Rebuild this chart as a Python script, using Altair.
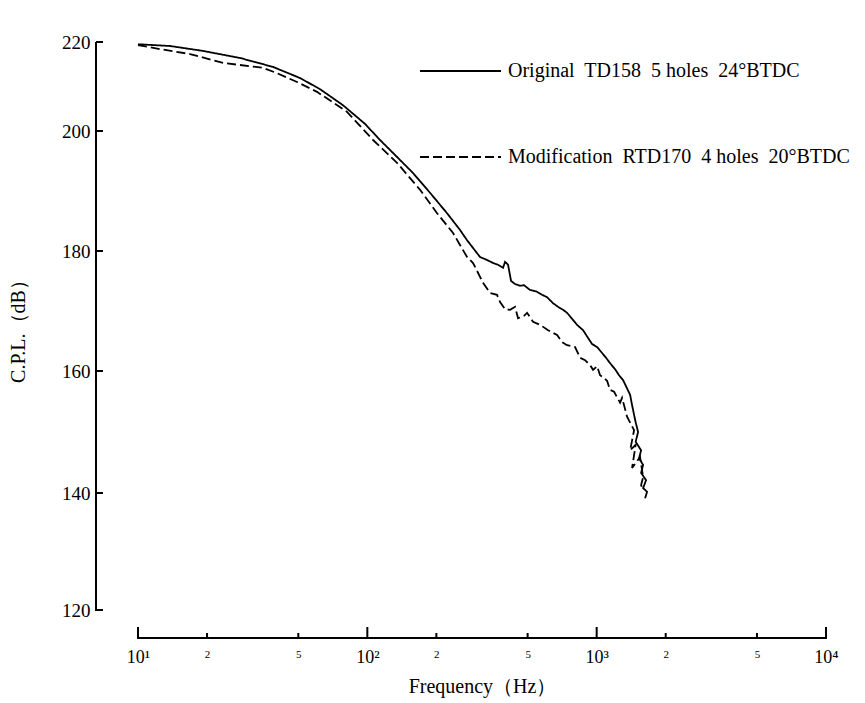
import altair as alt
import pandas as pd

S_LABEL = "Original\u00a0 TD158\u00a0 5 holes\u00a0 24°BTDC"
M_LABEL = "Modification\u00a0 RTD170\u00a0 4 holes\u00a0 20°BTDC"

orig_freq = [10, 13.8, 19.2, 27.9, 38.8, 50.9, 62.2, 78.3, 97.7, 113.6, 132.1, 158.2,
             187.7, 222.6, 253.7, 272.1, 310.0, 332.7, 353.4, 371.5, 390.6, 398.6, 410.8,
             423.4, 440.7, 463.4, 482.5, 512.5, 549.7, 578.0, 607.7, 645.3, 678.5, 713.7,
             743.0, 781.0, 821.2, 872.3, 917.6, 954.8, 1004, 1056, 1099, 1144, 1203, 1252,
             1304, 1343, 1399, 1427, 1456, 1479, 1516, 1479, 1562, 1531, 1594, 1562, 1642,
             1594, 1659, 1626]
orig_cpl = [219.5, 219.1, 218.0, 216.4, 214.4, 211.9, 209.4, 205.8, 201.6, 198.5, 196.0, 193.0,
            189.7, 186.3, 183.5, 181.8, 179.0, 178.5, 178.0, 177.7, 177.2, 178.2, 177.7,
            175.0, 174.5, 174.2, 174.3, 173.5, 173.2, 172.7, 172.3, 171.3, 170.7, 170.2,
            169.7, 168.7, 167.7, 166.8, 165.5, 164.5, 164.0, 163.0, 162.2, 161.3, 160.3, 159.3,
            158.5, 157.5, 156.1, 154.4, 152.8, 151.6, 150.0, 148.4, 147.0, 145.7, 144.6, 143.3,
            142.1, 140.8, 140.2, 139.1]

mod_freq = [10, 12.47, 16.86, 23.48, 35.09, 40.39, 49.38, 60.34, 81.54, 105.9, 134.7, 169.8,
            201.4, 236.5, 272.1, 289.1, 319.6, 342.9, 367.8, 379.0, 398.6, 419.2, 440.7,
            454.2, 482.5, 497.3, 528.0, 566.5, 614.0, 672.1, 706.6, 743.0, 805.2, 846.4,
            890.0, 935.8, 964.5, 1004, 1034.7, 1066.5, 1110, 1144, 1191, 1265, 1291, 1357,
            1456, 1399, 1479, 1427, 1546, 1594, 1562, 1594]
mod_cpl = [219.3, 218.4, 217.3, 215.3, 214.2, 213.0, 211.0, 208.8, 204.3, 198.5, 194.7, 190.2,
           186.3, 183.0, 179.0, 178.0, 174.7, 173.0, 172.7, 171.5, 170.3, 170.2, 170.7,
           168.8, 169.2, 169.7, 168.2, 167.7, 166.8, 166.0, 164.8, 164.3, 164.0, 162.2,
           161.8, 161.0, 160.2, 160.8, 159.3, 159.0, 158.4, 156.9, 156.6, 154.8, 155.6, 152.5,
           150.3, 147.0, 147.9, 144.1, 145.9, 142.6, 141.3, 140.5]

y_ticks = [120, 140, 160, 180, 200, 220]
x_major = [10, 100, 1000, 10000]
x_minor = [20, 50, 200, 500, 2000, 5000]

FONT = "Liberation Serif"
W, H = 688, 568
YOFF, XOFF = 42, 28

rows = []
for i, (f, v) in enumerate(zip(orig_freq, orig_cpl)):
    rows.append({"series": S_LABEL, "f": f, "v": v, "i": i})
for i, (f, v) in enumerate(zip(mod_freq, mod_cpl)):
    rows.append({"series": M_LABEL, "f": f, "v": v, "i": i})
df = pd.DataFrame(rows)

xscale = alt.Scale(type="log", domain=[10, 10000], nice=False)
yscale = alt.Scale(domain=y_ticks, range=[568, 451, 329, 209, 89, 0], zero=False, nice=False)

label_expr = ("datum.value == 10 ? '10\u00b9' : datum.value == 100 ? '10\u00b2' : "
              "datum.value == 1000 ? '10\u00b3' : datum.value == 10000 ? '10\u2074' : "
              "indexof([20,200,2000], datum.value) >= 0 ? '2' : '5'")

xaxis = alt.Axis(values=sorted(x_major + x_minor), ticks=False, grid=False, offset=XOFF,
                 domain=False, labelExpr=label_expr,
                 labelFont=FONT, labelColor="black", labelBaseline="top", labelPadding=10,
                 labelFontSize={"condition": {"test": "indexof([10,100,1000,10000], datum.value) >= 0",
                                              "value": 18}, "value": 11},
                 labelOverlap=False, labelFlush=False,
                 title="Frequency\uff08Hz\uff09", titleFont=FONT, titleFontSize=20,
                 titleFontWeight="normal", titleColor="black", titlePadding=10)

yaxis = alt.Axis(values=y_ticks, ticks=False, grid=False, offset=YOFF, domain=False,
                 labelFont=FONT, labelFontSize=19, labelColor="black", labelPadding=6,
                 labelOverlap=False, labelFlush=False,
                 title="C.P.L.\uff08dB\uff09", titleFont=FONT, titleFontSize=20,
                 titleFontWeight="normal", titleColor="black", titlePadding=33)

X = alt.X("f:Q", scale=xscale, axis=xaxis)
Y = alt.Y("v:Q", scale=yscale, axis=yaxis)

lines = alt.Chart(df).mark_line(color="black", strokeWidth=1.8).encode(
    x=X, y=Y,
    strokeDash=alt.StrokeDash(
        "series:N",
        scale=alt.Scale(domain=[S_LABEL, M_LABEL], range=[[1, 0], [9, 4]]),
        sort=[S_LABEL, M_LABEL],
        legend=alt.Legend(orient="none", legendX=281, legendY=-12.5, title=None,
                          symbolType="stroke", symbolSize=6561, symbolStrokeWidth=1.8,
                          symbolStrokeColor="black", labelFont=FONT, labelFontSize=20,
                          labelColor="black", labelOffset=6, rowPadding=34, padding=0,
                          labelLimit=600),
    ),
    order="i:Q",
)

ytick_df = pd.DataFrame({"v": y_ticks})
yticks = alt.Chart(ytick_df).mark_rule(color="black", strokeWidth=2).encode(
    y=Y, x=alt.value(-YOFF), x2=alt.value(-YOFF + 7))

xmaj = alt.Chart(pd.DataFrame({"f": x_major})).mark_rule(color="black", strokeWidth=2).encode(
    x=X, y=alt.value(H + XOFF), y2=alt.value(H + XOFF - 11))
xmin = alt.Chart(pd.DataFrame({"f": x_minor})).mark_rule(color="black", strokeWidth=2).encode(
    x=X, y=alt.value(H + XOFF), y2=alt.value(H + XOFF - 5))

ydomain = alt.Chart(ytick_df).mark_rule(color="black", strokeWidth=2).encode(
    x=alt.value(-YOFF), y=alt.value(0), y2=alt.value(H + 1))
xdomain = alt.Chart(ytick_df).mark_rule(color="black", strokeWidth=2).encode(
    y=alt.value(H + XOFF), x=alt.value(-1), x2=alt.value(W + 1))

chart = alt.layer(lines, yticks, xmaj, xmin, ydomain, xdomain).properties(
    width=W, height=H,
    autosize=alt.AutoSizeParams(type="none"),
    padding={"left": 138, "top": 42, "right": 39, "bottom": 93},
    background="white",
).configure_view(stroke=None)

chart.save("out.html", embed_options={"renderer": "svg", "actions": False})
